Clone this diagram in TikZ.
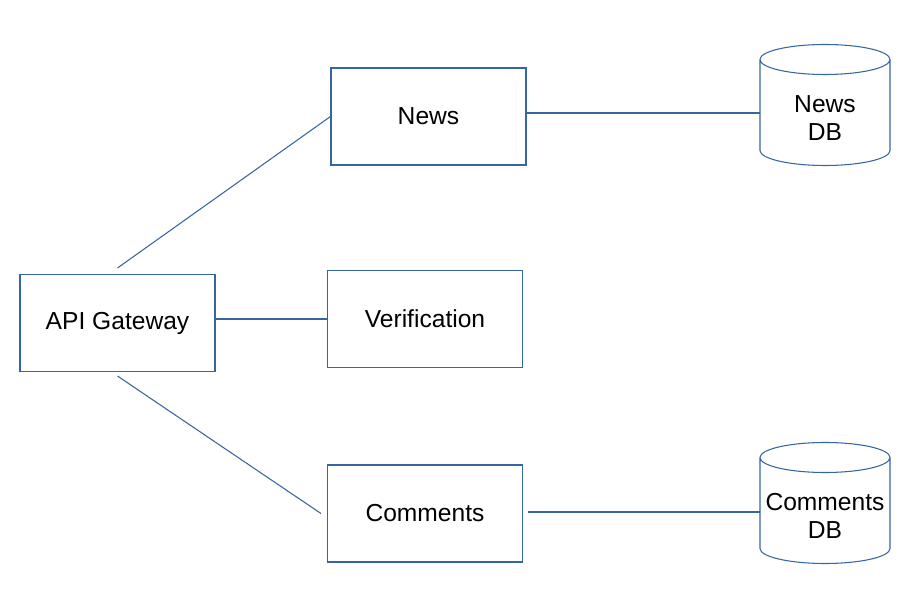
\documentclass[tikz,border=0pt]{standalone}
\usepackage{fontspec}
\setmainfont{Liberation Sans}
\usepackage{xcolor}
\definecolor{edge}{RGB}{52,101,164}
\tikzset{
    svc/.style = {draw = edge, line width = 0.6pt, minimum width = 3.9cm, minimum height = 1.94cm, font = \fontsize{14}{16}\selectfont},
    store/.style = {minimum width = 2.6cm, inner xsep = 0pt, align = center, font = \fontsize{14}{15.5}\selectfont},
    link/.style = {draw = edge, line width = 0.6pt}
}
% drum outline round a store node (top 1.47cm above, bottom 0.95cm below its centre)
\newcommand{\dbdrum}[1]{%
    \draw[link] ([shift = {(-1.3cm, 1.17cm)}]#1.center) -- ([shift = {(-1.3cm, -0.65cm)}]#1.center) arc (180:360:1.3cm and 0.3cm)
        -- ([shift = {(1.3cm, 1.17cm)}]#1.center) arc (0:180:1.3cm and 0.3cm) arc (180:360:1.3cm and 0.3cm);}

\begin{document}
\begin{tikzpicture}
        \useasboundingbox (0,0) rectangle (18.32,11.8);
        \node[svc] (gw) at (2.35, 5.34) {API Gateway};
        \node[svc] (news) at (8.57, 9.47) {News};
        \node[svc] (verif) at (8.5, 5.42) {Verification};
        \node[svc] (comm) at (8.5, 1.53) {Comments};
        \node[store] (newsdb) at (16.5, 9.44) {News\\DB};
        \node[store] (commdb) at (16.5, 1.48) {Comments\\DB};
        \dbdrum{newsdb}
        \dbdrum{commdb}
        \draw[link] ([yshift = 0.12cm]gw.north) -- (news.west);
        \draw[link] (gw.east |- verif.west) -- (verif.west);
        \draw[link] ([yshift = -0.08cm]gw.south) -- ([xshift = -0.12cm]comm.west);
        \draw[link] ([yshift = 0.1cm]news.east |- newsdb.west) -- ([yshift = 0.1cm]newsdb.west);
        \draw[link] ([shift = {(0.1cm, 0.08cm)}]comm.east |- commdb.west) -- ([yshift = 0.08cm]commdb.west);
    \end{tikzpicture}
\end{document}
